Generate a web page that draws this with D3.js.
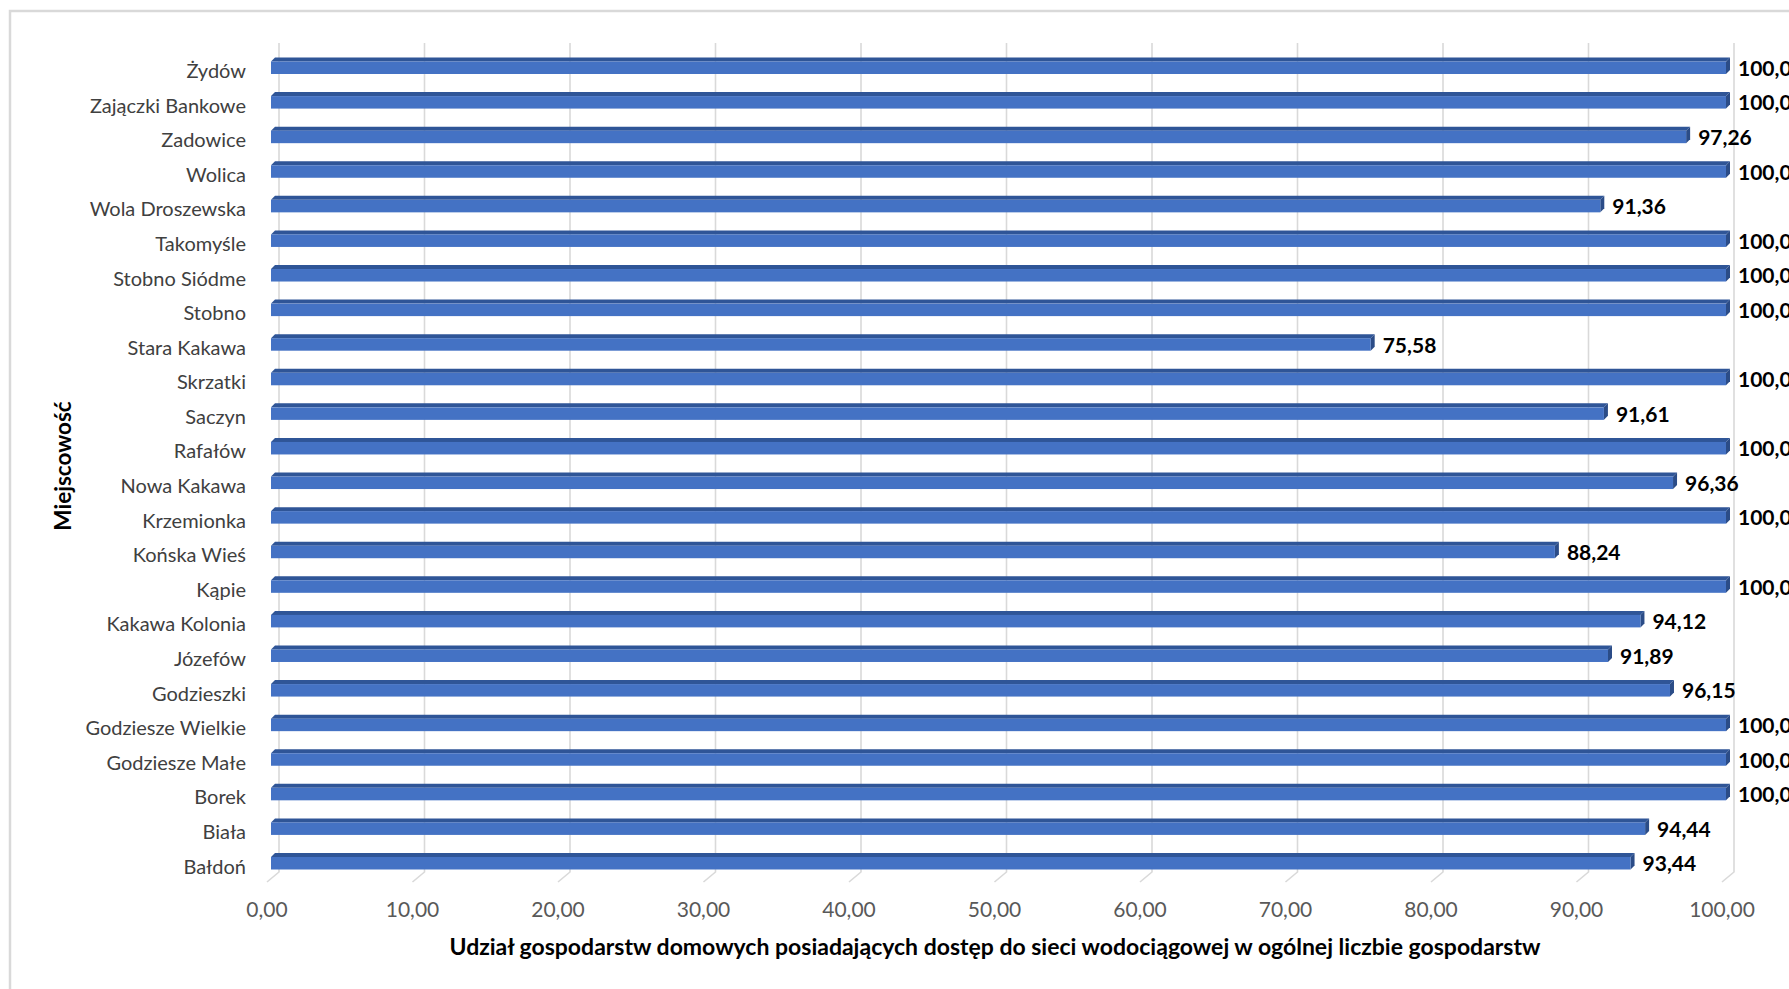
<!DOCTYPE html>
<html><head><meta charset="utf-8">
<script src="https://cdn.jsdelivr.net/npm/d3@7"></script>
<style>html,body{margin:0;padding:0;background:#fff;overflow:hidden}svg{display:block}</style>
</head><body>
<svg id="c" width="1789" height="989"></svg>
<script>
const categories = ["Żydów","Zajączki Bankowe","Zadowice","Wolica","Wola Droszewska","Takomyśle","Stobno Siódme","Stobno","Stara Kakawa","Skrzatki","Saczyn","Rafałów","Nowa Kakawa","Krzemionka","Końska Wieś","Kąpie","Kakawa Kolonia","Józefów","Godzieszki","Godziesze Wielkie","Godziesze Małe","Borek","Biała","Bałdoń"];
const values = [100,100,97.26,100,91.36,100,100,100,75.58,100,91.61,100,96.36,100,88.24,100,94.12,91.89,96.15,100,100,100,94.44,93.44];
const xTicks = [0,10,20,30,40,50,60,70,80,90,100];
const xTitle = "Udział gospodarstw domowych posiadających dostęp do sieci wodociągowej w ogólnej liczbie gospodarstw";
const yTitle = "Miejscowość";

const svg = d3.select("#c");
const FONT = "Lato, 'Open Sans', sans-serif";
const fmt = v => v.toFixed(2).replace(".", ",");

// chart border
svg.append("rect").attr("x",10).attr("y",11).attr("width",1900).attr("height",1200)
  .attr("fill","none").attr("stroke","#d9d9d9").attr("stroke-width",2.5);

const x = d3.scaleLinear().domain([0,100]).range([279,1734]);
const step = (861-65.5)/23;
const y = d3.scaleBand().domain(categories).range([65.5-step/2, 861+step/2]).padding(0);
const cy = c => y(c) + y.bandwidth()/2;

const gridTop = 43, gridBot = 872, dx = -12, dy = 10;
// gridlines (back wall + floor)
svg.append("g").selectAll("path").data(xTicks).join("path")
  .attr("d", t => `M${x(t)},${gridTop}V${gridBot}l${dx},${dy}`)
  .attr("fill","none").attr("stroke","#d9d9d9").attr("stroke-width",1.6);

// x tick labels
svg.append("g").selectAll("text").data(xTicks).join("text")
  .attr("x", t => x(t)+dx).attr("y", 917)
  .attr("text-anchor","middle").attr("font-family",FONT).attr("font-size",21)
  .attr("fill","#595959").text(t => fmt(t));

// bars (3D)
const fx = -8, bx = -4, up = 4;
const bars = svg.append("g").selectAll("g").data(categories).join("g");
bars.each(function(c,i){
  const g = d3.select(this);
  const v = values[i];
  const c0 = cy(c);
  const x0 = x(0)+fx, x1 = x(v)+fx;
  const ft = c0 - 4, fb = c0 + 8.5;
  g.append("path").attr("d", `M${x0},${ft}L${x0+(bx-fx)},${ft-up}L${x1+(bx-fx)},${ft-up}L${x1},${ft}Z`)
    .attr("fill","#2f5597");
  g.append("path").attr("d", `M${x1},${ft}L${x1+(bx-fx)},${ft-up}L${x1+(bx-fx)},${fb-up}L${x1},${fb}Z`)
    .attr("fill","#2b4c87");
  g.append("rect").attr("x",x0).attr("y",ft).attr("width",x1-x0).attr("height",fb-ft)
    .attr("fill","#4472c4");
  g.append("text").attr("x", x(v)+4).attr("y", c0+3).attr("dy","0.35em")
    .attr("font-family",FONT).attr("font-size",21).attr("font-weight","bold")
    .attr("fill","#000").text(fmt(v));
});

// category labels
svg.append("g").selectAll("text").data(categories).join("text")
  .attr("x", 246).attr("y", c => cy(c)+5.5).attr("dy","0.35em").attr("text-anchor","end")
  .attr("font-family",FONT).attr("font-size",20).attr("fill","#404040").text(c => c);

// axis titles
svg.append("text").attr("x",995).attr("y",947).attr("dy","0.35em").attr("text-anchor","middle")
  .attr("font-family",FONT).attr("font-size",23).attr("font-weight","bold").attr("fill","#000").text(xTitle);
svg.append("text").attr("transform","translate(63,466) rotate(-90)").attr("dy","0.35em").attr("text-anchor","middle")
  .attr("font-family",FONT).attr("font-size",22.5).attr("font-weight","bold").attr("fill","#000").text(yTitle);
</script>
</body></html>
